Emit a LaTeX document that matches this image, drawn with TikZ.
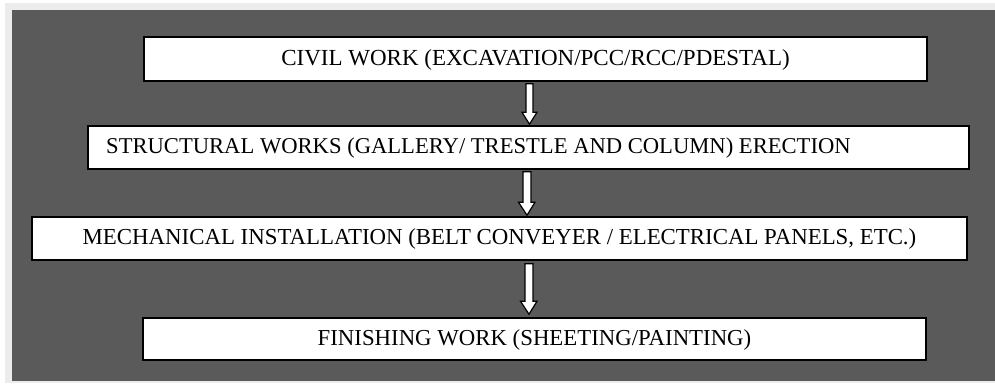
\documentclass[tikz,border=0pt]{standalone}
\usepackage{fontspec}
\setmainfont{Liberation Serif}
\usetikzlibrary{calc}
\definecolor{pagebg}{HTML}{ECECEC}
\definecolor{panelbg}{HTML}{5A5A5A}
\tikzset{
  stagebox/.style={draw=black, fill=white, line width=1.5pt, inner sep=0pt, rectangle},
  stagetext/.style={inner sep=0pt, font=\fontsize{#1}{27}\selectfont},
  stagetext/.default=23,
  barrow/.style={draw=black, fill=white, line width=1.2pt, line join=miter}
}
\begin{document}
\begin{tikzpicture}[x=1pt,y=-1pt]
\useasboundingbox (0,0) rectangle (995,383);
\fill[white] (0,0) rectangle (995,383);
\fill[pagebg] (5,3) rectangle (995,383);
\fill[panelbg] (12,10) rectangle (995,381);

\node[stagebox, minimum width=783pt, minimum height=44pt] (b1) at (535.5,59) {};
\node[stagebox, minimum width=881pt, minimum height=43pt] (b2) at (528.5,147.5) {};
\node[stagebox, minimum width=935pt, minimum height=43pt] (b3) at (499.5,238.5) {};
\node[stagebox, minimum width=783pt, minimum height=42pt] (b4) at (534.5,339) {};

\node[stagetext] (t1) at ([yshift=-1pt]b1.center) {CIVIL WORK (EXCAVATION/PCC/RCC/PDESTAL)};
\node[stagetext=22.6, anchor=west] (t2) at (106,148.5) {STRUCTURAL WORKS (GALLERY/ TRESTLE AND COLUMN) ERECTION};
\node[stagetext=22.85] (t3) at ([yshift=-1pt]b3.center) {MECHANICAL INSTALLATION (BELT CONVEYER / ELECTRICAL PANELS, ETC.)};
\node[stagetext=22.8] (t4) at ([yshift=-1pt]b4.center) {FINISHING WORK (SHEETING/PAINTING)};

\draw[barrow] let \p1=(b1.south), \p2=(b2.north) in
  (526pt,\y1-2pt) -- (533pt,\y1-2pt) -- (533pt,\y2+13pt) -- (537pt,\y2+13pt)
  -- (529.5pt,\y2+1pt) -- (522pt,\y2+13pt) -- (526pt,\y2+13pt) -- cycle;
\draw[barrow] let \p1=(b2.south), \p2=(b3.north) in
  (523pt,\y1-2pt) -- (531pt,\y1-2pt) -- (531pt,\y2+14pt) -- (535pt,\y2+14pt)
  -- (527pt,\y2+1pt) -- (518.5pt,\y2+14pt) -- (523pt,\y2+14pt) -- cycle;
\draw[barrow] let \p1=(b3.south), \p2=(b4.north) in
  (525pt,\y1-3pt) -- (533pt,\y1-3pt) -- (533pt,\y2+16pt) -- (537pt,\y2+16pt)
  -- (529pt,\y2+3pt) -- (520.5pt,\y2+16pt) -- (525pt,\y2+16pt) -- cycle;
\end{tikzpicture}
\end{document}
